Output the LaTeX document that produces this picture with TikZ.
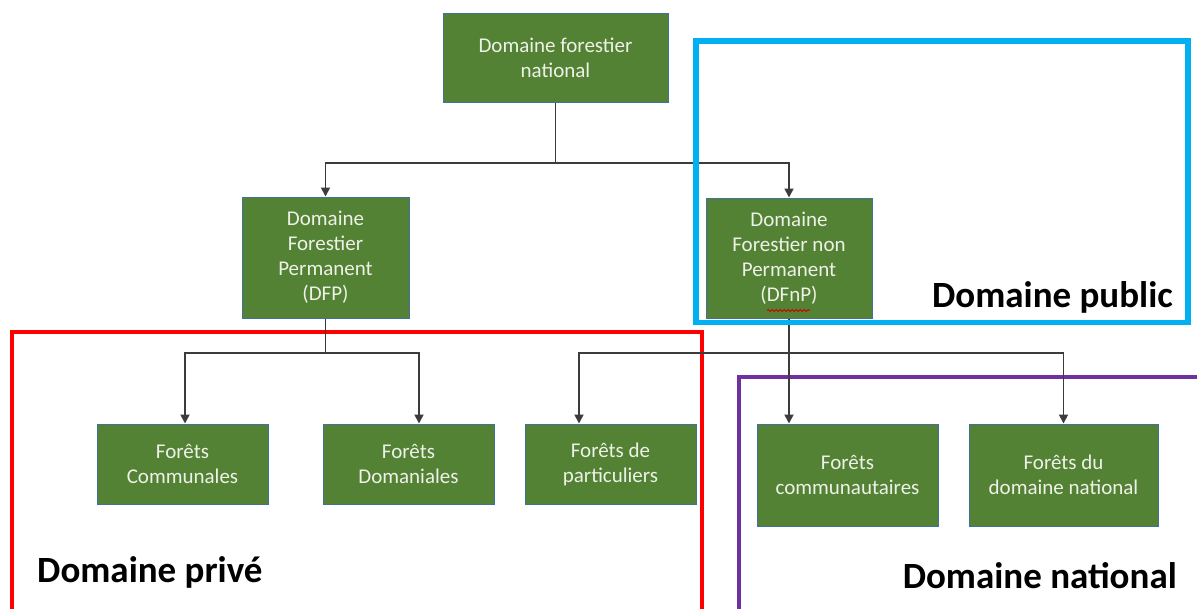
\documentclass[tikz,border=0pt]{standalone}
\usepackage{fontspec}
\setmainfont{Carlito}
\usetikzlibrary{arrows.meta,decorations.pathmorphing}
\definecolor{boxgreen}{RGB}{83,130,53}
\definecolor{boxedge}{RGB}{65,113,156}
\definecolor{boxtext}{RGB}{238,241,232}
\definecolor{conncol}{RGB}{60,60,60}
\definecolor{pubblue}{RGB}{0,176,240}
\definecolor{privred}{RGB}{255,0,0}
\definecolor{natpurple}{RGB}{112,48,160}
\tikzset{
  gbox/.style={draw=boxedge, line width=1pt, fill=boxgreen, text=boxtext,
    align=center, inner sep=0pt, font=\fontsize{21}{25}\selectfont},
  conn/.style={draw=conncol, line width=1.8pt},
  arr/.style={conn, -{Triangle[length=9pt,width=9pt]}},
  biglabel/.style={font=\fontsize{37}{44}\selectfont\bfseries, inner sep=0pt},
}
\begin{document}
\begin{tikzpicture}[x=1pt,y=-1pt]
\useasboundingbox (0,0) rectangle (1197,608);
\clip (0,0) rectangle (1197,608);
\fill[white] (0,0) rectangle (1197,608);

% frames (red, purple)
\draw[privred, line width=4pt] (12,640) -- (12,332) -- (702,332) -- (702,640);
\draw[natpurple, line width=4pt] (739,640) -- (739,377) -- (1220,377);

% nodes
\node[gbox, minimum width=225pt, minimum height=89pt] (top) at (555.5,57.5) {Domaine forestier\\national};
\node[gbox, minimum width=167pt, minimum height=121pt] (dfp) at (325.5,257.5) {Domaine\\Forestier\\Permanent\\(DFP)};
\node[gbox, minimum width=166pt, minimum height=120pt] (dfnp) at (789,258) {Domaine\\Forestier non\\Permanent\\(DFnP)};
\node[gbox, minimum width=171pt, minimum height=80pt] (com) at (182.5,464) {Forêts\\Communales};
\node[gbox, minimum width=171pt, minimum height=80pt] (dom) at (408.5,464) {Forêts\\Domaniales};
\node[gbox, minimum width=171pt, minimum height=80pt] (par) at (610.5,464) {Forêts de\\particuliers};
\node[gbox, minimum width=181pt, minimum height=102pt] (cmt) at (847.5,475) {Forêts\\communautaires};
\node[gbox, minimum width=189pt, minimum height=102pt] (dnat) at (1063.5,475) {Forêts du\\domaine national};

% spell-check squiggle under (DFnP)
\draw[red!80!black, line width=0.8pt, decorate, decoration={snake, amplitude=1pt, segment length=4pt}]
  (767,310.5) -- (810,310.5);

% connectors
\coordinate (jT) at (555.5,163);
\coordinate (jL) at (325.5,353);
\coordinate (jR) at (789,353);
\draw[conn] (top.south) -- (jT);
\draw[arr] (jT) -| (dfp.north);
\draw[arr] (jT) -| (dfnp.north);
\draw[conn] (dfp.south) -- (jL);
\draw[arr] (jL) -| ([xshift=2.5pt]com.north);
\draw[arr] (jL) -| ([xshift=10.5pt]dom.north);
\draw[arr] (dfnp.south) -- (dfnp.south |- cmt.north);
\draw[arr] (jR) -| ([xshift=-31.5pt]par.north);
\draw[arr] (jR) -| (dnat.north);

% public frame (on top)
\draw[pubblue, line width=5.5pt] (696,41) rectangle (1188,322.5);

% labels
\node[biglabel, anchor=base east] (lpub) at (1173,307) {Domaine public};
\node[biglabel, anchor=base west] (lpriv) at (37,582) {Domaine privé};
\node[biglabel, anchor=base east] (lnat) at (1177,588) {Domaine national};
\end{tikzpicture}
\end{document}
